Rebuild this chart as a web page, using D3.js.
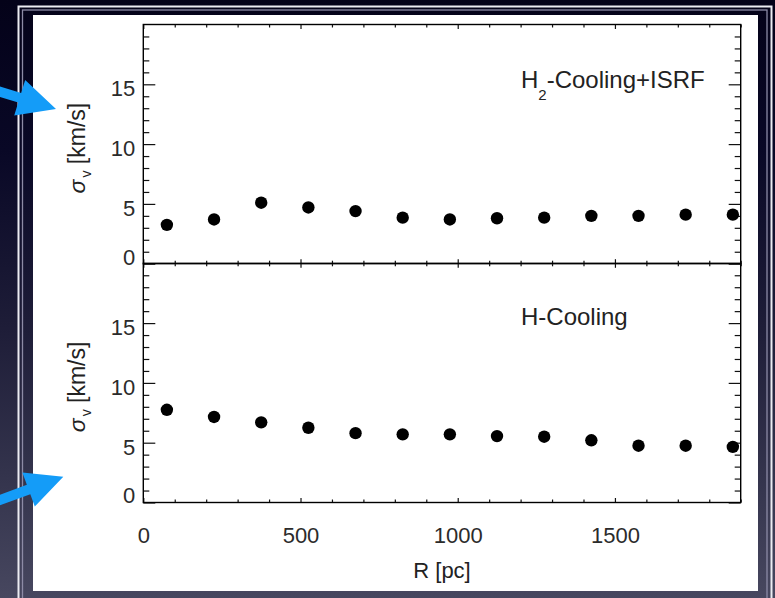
<!DOCTYPE html>
<html>
<head>
<meta charset="utf-8">
<script src="https://cdn.jsdelivr.net/npm/d3@7"></script>
<style>
  body { margin: 0; background: #000; }
  svg { display: block; }
  text { font-family: 'Liberation Sans', Arial, Helvetica, sans-serif; }
</style>
</head>
<body>
<svg width="775" height="598"></svg>
<script>
'use strict'

// radius bins (pc) and velocity dispersion (km/s) per run
const R_PC = [75, 225, 375, 525, 675, 825, 975, 1125, 1275, 1425, 1575, 1725, 1875];
const SIGMA_H2_ISRF = [3.25, 3.7, 5.1, 4.7, 4.4, 3.85, 3.7, 3.8, 3.85, 4.0, 4.0, 4.1, 4.1];
const SIGMA_H = [7.75, 7.15, 6.7, 6.25, 5.8, 5.7, 5.7, 5.55, 5.5, 5.2, 4.75, 4.75, 4.65];

const X_TICKS = [0, 500, 1000, 1500];
const Y_TICKS = [0, 5, 10, 15];
const X_DOMAIN = [0, 1900];
const Y_DOMAIN = [0, 20];

const PLOT_LEFT = 143.3;
const PLOT_RIGHT = 740.7;
const PANEL_TOPS = [24.5, 263.3];
const PANEL_H = 239.2;

const svg = d3.select('svg');
const W = 775, H = 598;

// slide background
const defs = svg.append('defs');
const grad = defs.append('linearGradient')
  .attr('id', 'bg').attr('x1', 0).attr('y1', 0).attr('x2', 0).attr('y2', 1);
[[0, '#040219'], [0.25, '#090826'], [0.55, '#1e1d38'], [0.8, '#34344d'], [1, '#47475f']]
  .forEach(([o, c]) => grad.append('stop').attr('offset', o).attr('stop-color', c));
svg.append('rect').attr('width', W).attr('height', H).attr('fill', 'url(#bg)');

// picture frame
svg.append('rect').attr('x', 18.5).attr('y', 6.5).attr('width', 753).attr('height', 700)
  .attr('fill', 'none').attr('stroke', '#ececf2').attr('stroke-width', 2);
svg.append('rect').attr('x', 22.5).attr('y', 10).attr('width', 744.5).attr('height', 700)
  .attr('fill', 'none').attr('stroke', '#8d8ba6').attr('stroke-width', 1.3);
svg.append('rect').attr('x', 33).attr('y', 15).attr('width', 725).attr('height', 576)
  .attr('fill', '#fff');

const x = d3.scaleLinear().domain(X_DOMAIN).range([PLOT_LEFT, PLOT_RIGHT]);
const xMinor = d3.range(0, 1901, 100).filter(v => v % 500 !== 0);
const yMinor = d3.range(0, 21, 1).filter(v => v % 5 !== 0);

const panels = [
  { values: SIGMA_H2_ISRF, label: ['H', '2', '-Cooling+ISRF'], labelY: 88, xLabels: false },
  { values: SIGMA_H, label: ['H-Cooling'], labelY: 325, xLabels: true }
];

function styleTicks(g) {
  g.select('.domain').remove();
  g.selectAll('line').attr('stroke', '#111').attr('stroke-width', 1.2);
  g.selectAll('text').remove();
}

panels.forEach((p, i) => {
  const top = PANEL_TOPS[i];
  const bottom = top + PANEL_H;
  const y = d3.scaleLinear().domain(Y_DOMAIN).range([bottom, top]);
  const g = svg.append('g');

  // inward ticks on all four sides
  [[Y_TICKS, 12], [yMinor, 6]].forEach(([vals, len]) => {
    g.append('g').attr('transform', `translate(${PLOT_LEFT},0)`)
      .call(d3.axisRight(y).tickValues(vals).tickSize(len)).call(styleTicks);
    g.append('g').attr('transform', `translate(${PLOT_RIGHT},0)`)
      .call(d3.axisLeft(y).tickValues(vals).tickSize(len)).call(styleTicks);
  });
  [[X_TICKS, 4.5], [xMinor, 3]].forEach(([vals, len]) => {
    g.append('g').attr('transform', `translate(0,${bottom})`)
      .call(d3.axisTop(x).tickValues(vals).tickSize(len)).call(styleTicks);
    g.append('g').attr('transform', `translate(0,${top})`)
      .call(d3.axisBottom(x).tickValues(vals).tickSize(len)).call(styleTicks);
  });

  g.append('rect')
    .attr('x', PLOT_LEFT).attr('y', top)
    .attr('width', PLOT_RIGHT - PLOT_LEFT).attr('height', bottom - top)
    .attr('fill', 'none').attr('stroke', '#000').attr('stroke-width', 1.4);

  // y tick labels
  const yl = g.append('g').attr('transform', `translate(${PLOT_LEFT},0)`)
    .call(d3.axisLeft(y).tickValues(Y_TICKS).tickSize(0).tickPadding(8));
  yl.select('.domain').remove();
  yl.selectAll('text')
    .attr('font-size', 22).attr('fill', '#2b2b2b')
    .attr('font-family', "'Liberation Sans', Arial, sans-serif")
    .attr('dy', d => d === 0 ? '0.02em' : '0.52em');

  // x tick labels only under the lower panel
  if (p.xLabels) {
    const xl = g.append('g').attr('transform', `translate(0,${bottom})`)
      .call(d3.axisBottom(x).tickValues(X_TICKS).tickFormat(d3.format('d'))
        .tickSize(0).tickPadding(25));
    xl.select('.domain').remove();
    xl.selectAll('text')
      .attr('font-size', 22).attr('fill', '#2b2b2b')
      .attr('font-family', "'Liberation Sans', Arial, sans-serif");
  }

  // points
  g.selectAll('circle')
    .data(R_PC.map((r, k) => [r, p.values[k]]))
    .join('circle')
    .attr('cx', d => x(d[0]))
    .attr('cy', d => y(d[1]))
    .attr('r', 6.2)
    .attr('fill', '#000');

  // run label
  const t = g.append('text')
    .attr('x', 521).attr('y', p.labelY)
    .attr('font-size', 24).attr('fill', '#222');
  t.append('tspan').text(p.label[0]);
  if (p.label.length > 1) {
    t.append('tspan').attr('dy', 12).attr('font-size', 15).text(p.label[1]);
    t.append('tspan').attr('dy', -12).text(p.label[2]);
  }

  // y axis title
  const yt = g.append('text')
    .attr('transform', `translate(85,${(top + bottom) / 2 + 4}) rotate(-90)`)
    .attr('text-anchor', 'middle')
    .attr('font-size', 23).attr('fill', '#222');
  yt.append('tspan').attr('font-style', 'italic').text('σ');
  yt.append('tspan').attr('dx', 2).attr('dy', 6).attr('font-size', 14).text('v');
  yt.append('tspan').attr('dy', -6).text('  [km/s]');
});

svg.append('text')
  .attr('x', x(950)).attr('y', 578)
  .attr('text-anchor', 'middle')
  .attr('font-size', 22).attr('fill', '#222')
  .text('R [pc]');

// blue pointer arrows on the left
function arrowPath(s, tip, shaft, headLen, headW) {
  const dx = tip[0] - s[0], dy = tip[1] - s[1];
  const L = Math.hypot(dx, dy);
  const ux = dx / L, uy = dy / L, nx = -uy, ny = ux;
  const bx = tip[0] - ux * headLen, by = tip[1] - uy * headLen;
  const pts = [
    [s[0] + nx * shaft / 2, s[1] + ny * shaft / 2],
    [bx + nx * shaft / 2, by + ny * shaft / 2],
    [bx + nx * headW / 2, by + ny * headW / 2],
    tip,
    [bx - nx * headW / 2, by - ny * headW / 2],
    [bx - nx * shaft / 2, by - ny * shaft / 2],
    [s[0] - nx * shaft / 2, s[1] - ny * shaft / 2]
  ];
  return 'M' + pts.map(p => p.join(',')).join('L') + 'Z';
}
svg.append('path').attr('d', arrowPath([-10, 88.6], [56, 109], 10, 38, 37)).attr('fill', '#149cf8');
svg.append('path').attr('d', arrowPath([-10, 503.7], [63.3, 476.7], 10, 37, 36)).attr('fill', '#149cf8');
</script>
</body>
</html>
